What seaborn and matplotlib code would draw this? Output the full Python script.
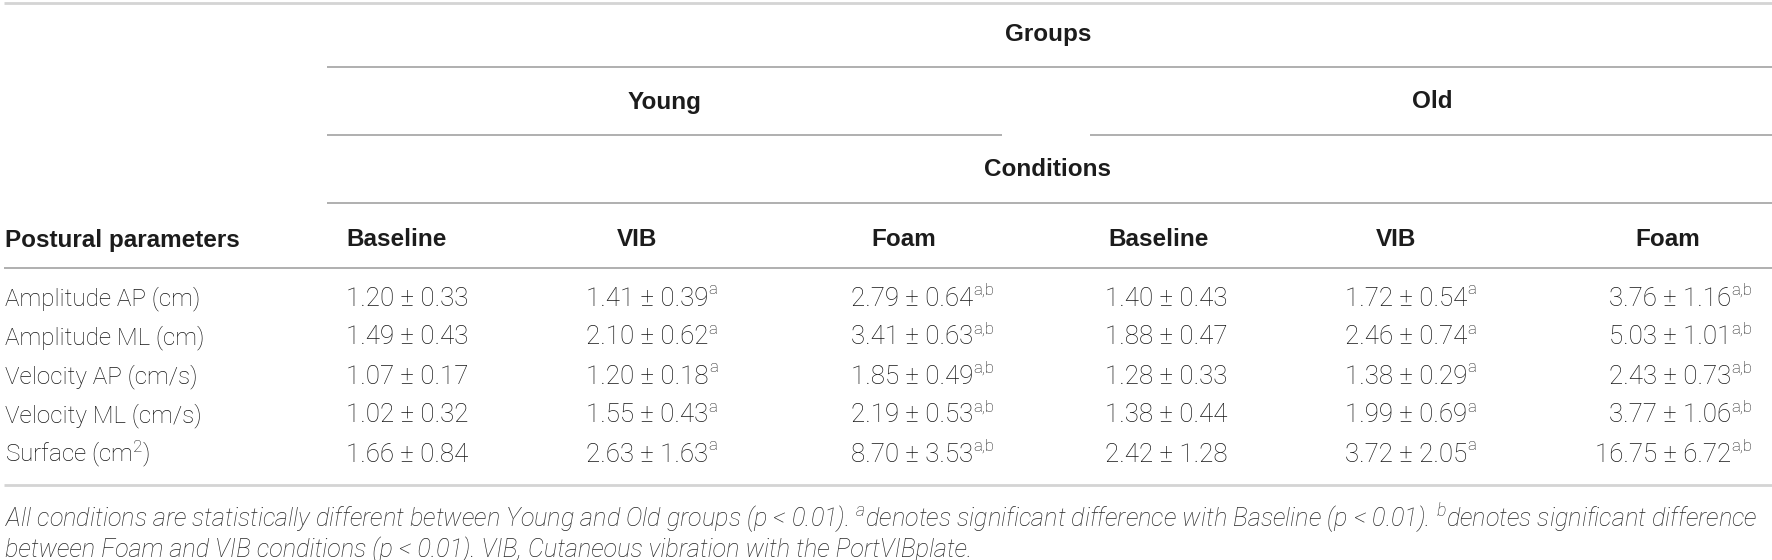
"""
Postural parameters table: Young vs Old groups under Baseline, VIB and Foam
conditions, drawn as a text table with seaborn styling.
"""

import matplotlib
matplotlib.use("Agg")
import matplotlib.pyplot as plt
import seaborn as sns
import pandas as pd

# ---- table content ----
parameters = ["Amplitude AP (cm)", "Amplitude ML (cm)", "Velocity AP (cm/s)",
              "Velocity ML (cm/s)", "Surface (cm$^{\\mathrm{2}}$)"]
groups = ["Young", "Old"]
conditions = ["Baseline", "VIB", "Foam"]
significance = {"Baseline": "", "VIB": "a", "Foam": "a,b"}

young_baseline_mean = [1.20, 1.49, 1.07, 1.02, 1.66]
young_baseline_sd = [0.33, 0.43, 0.17, 0.32, 0.84]
young_vib_mean = [1.41, 2.10, 1.20, 1.55, 2.63]
young_vib_sd = [0.39, 0.62, 0.18, 0.43, 1.63]
young_foam_mean = [2.79, 3.41, 1.85, 2.19, 8.70]
young_foam_sd = [0.64, 0.63, 0.49, 0.53, 3.53]
old_baseline_mean = [1.40, 1.88, 1.28, 1.38, 2.42]
old_baseline_sd = [0.43, 0.47, 0.33, 0.44, 1.28]
old_vib_mean = [1.72, 2.46, 1.38, 1.99, 3.72]
old_vib_sd = [0.54, 0.74, 0.29, 0.69, 2.05]
old_foam_mean = [3.76, 5.03, 2.43, 3.77, 16.75]
old_foam_sd = [1.16, 1.01, 0.73, 1.06, 6.72]

footnote_lines = [
    "All conditions are statistically different between Young and Old groups "
    "(p < 0.01). $^{a}$denotes significant difference with Baseline (p < 0.01). "
    "$^{b}$denotes significant difference",
    "between Foam and VIB conditions (p < 0.01). VIB, Cutaneous vibration with "
    "the PortVIBplate.",
]

means = {("Young", "Baseline"): young_baseline_mean, ("Young", "VIB"): young_vib_mean,
         ("Young", "Foam"): young_foam_mean, ("Old", "Baseline"): old_baseline_mean,
         ("Old", "VIB"): old_vib_mean, ("Old", "Foam"): old_foam_mean}
sds = {("Young", "Baseline"): young_baseline_sd, ("Young", "VIB"): young_vib_sd,
       ("Young", "Foam"): young_foam_sd, ("Old", "Baseline"): old_baseline_sd,
       ("Old", "VIB"): old_vib_sd, ("Old", "Foam"): old_foam_sd}

records = []
for g in groups:
    for c in conditions:
        for i, p in enumerate(parameters):
            records.append({"group": g, "condition": c, "row": i, "parameter": p,
                            "mean": means[(g, c)][i], "sd": sds[(g, c)][i],
                            "sig": significance[c]})
table = pd.DataFrame(records)

# ---- layout (pixel units of a 1772x560 canvas) ----
W, H = 1772, 560
header_x = {("Young", "Baseline"): 397, ("Young", "VIB"): 637, ("Young", "Foam"): 904,
            ("Old", "Baseline"): 1159, ("Old", "VIB"): 1396, ("Old", "Foam"): 1668}
value_x = {("Young", "Baseline"): 407, ("Young", "VIB"): 647, ("Young", "Foam"): 912,
           ("Old", "Baseline"): 1166, ("Old", "VIB"): 1406, ("Old", "Foam"): 1731}
group_x = {"Young": 665, "Old": 1432}
row_y0, row_dy = 297, 39
cap_half = 8.5

sns.set_theme(style="white")
plt.rcParams["font.family"] = ["Roboto", "DejaVu Sans"]
plt.rcParams["mathtext.fontset"] = "custom"
plt.rcParams["mathtext.rm"] = "Roboto:light"
plt.rcParams["mathtext.it"] = "Roboto:italic:light"
plt.rcParams["mathtext.bf"] = "Roboto:bold"

HEAD = dict(family=["Liberation Sans", "DejaVu Sans"], weight="bold",
            fontsize=17.5, color="#1c1c1c")
LABEL = dict(family=["Roboto", "DejaVu Sans"], weight="light",
             fontsize=17.5, color="#161616")
BODY = dict(family=["Roboto", "DejaVu Sans"], weight="light",
            fontsize=18.6, color="#161616")
SUP = dict(family=["Roboto", "DejaVu Sans"], weight="light",
           fontsize=12, color="#161616")
NOTE = dict(family=["Roboto", "DejaVu Sans"], weight="light", style="italic",
            fontsize=18.2, color="#262626")

fig = plt.figure(figsize=(W / 100, H / 100), dpi=100)
ax = fig.add_axes([0, 0, 1, 1])
ax.set_xlim(0, W)
ax.set_ylim(H, 0)
ax.axis("off")

# rules
light, mid = "#d4d4d4", "#a9a9a9"
ax.hlines([3, 485], 4, W, colors=light, linewidth=2.0)
ax.hlines([67, 203], 327, W, colors=mid, linewidth=1.3)
ax.hlines(135, 327, 1002, colors=mid, linewidth=1.3)
ax.hlines(135, 1090, W, colors=mid, linewidth=1.3)
ax.hlines(268, 4, W, colors=mid, linewidth=1.3)

# spanning headers
ax.text(1048, 33 + cap_half, "Groups", ha="center", va="baseline", **HEAD)
for g in groups:
    ax.text(group_x[g], 100 + cap_half, g, ha="center", va="baseline", **HEAD)
ax.text(1048, 168 + cap_half, "Conditions", ha="center", va="baseline", **HEAD)

# column headers
ax.text(5, 238 + cap_half, "Postural parameters", ha="left", va="baseline", **HEAD)
for (g, c), x in header_x.items():
    ax.text(x, 238 + cap_half, c, ha="center", va="baseline", **HEAD)

# row labels
for i, p in enumerate(parameters):
    ax.text(5, row_y0 + i * row_dy + cap_half, p, ha="left", va="baseline", **LABEL)

# cells
for _, r in table.iterrows():
    key = (r["group"], r["condition"])
    y = row_y0 + r["row"] * row_dy + cap_half
    last = key == ("Old", "Foam")
    txt = ax.text(value_x[key], y, f"{r['mean']:.2f} \u00b1 {r['sd']:.2f}",
                  ha="right" if last else "center", va="baseline", **BODY)
    if r["sig"]:
        ax.annotate(r["sig"], xy=(1, 0), xycoords=txt, xytext=(0.5, 16),
                    textcoords="offset pixels", ha="left", va="baseline", **SUP)

# footnote
for k, line in enumerate(footnote_lines):
    ax.text(5, 520 + k * 30 + 7, line, ha="left", va="baseline", **NOTE)

fig.savefig("out.png", dpi=100, facecolor="white")
